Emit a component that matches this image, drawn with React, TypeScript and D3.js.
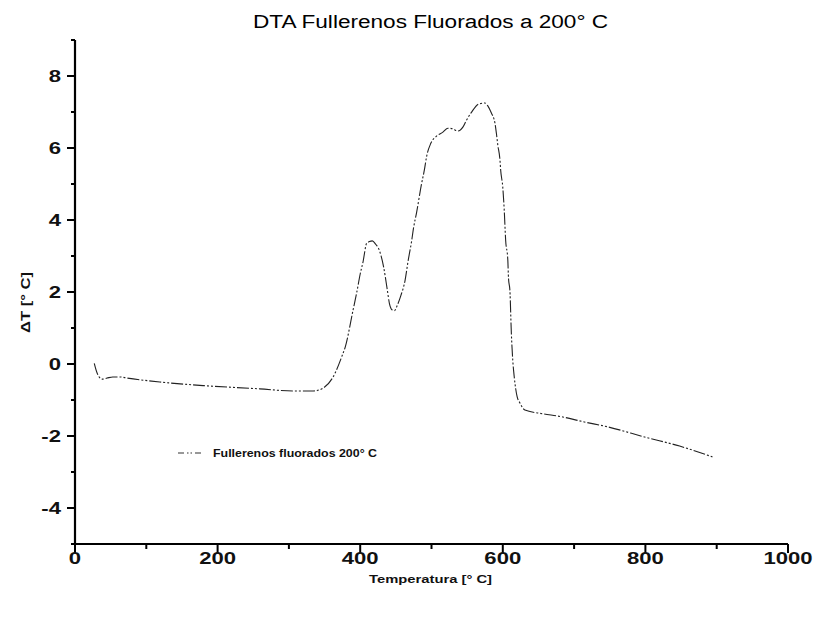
import React from "react";
import * as d3 from "d3";

const temps = [27, 31, 38, 45, 53, 63, 73, 119, 180, 259, 306, 334, 348, 362, 375, 379, 390, 395, 400, 404, 409, 413, 417, 422, 425, 433, 438, 441, 445, 448, 452, 457, 463, 467, 472, 475, 479, 486, 490, 493, 499, 507, 516, 523, 530, 537, 544, 549, 556, 566, 575, 579, 584, 589, 591, 593, 596, 597, 600, 602, 604, 607, 608, 610, 612, 614, 616, 620, 624, 631, 652, 684, 712, 746, 801, 848, 894];
const deltaT = [0.02, -0.25, -0.42, -0.39, -0.36, -0.36, -0.39, -0.5, -0.6, -0.69, -0.75, -0.75, -0.67, -0.36, 0.25, 0.47, 1.5, 1.97, 2.5, 2.84, 3.35, 3.4, 3.42, 3.32, 3.24, 2.68, 2.06, 1.68, 1.5, 1.48, 1.63, 1.9, 2.33, 2.84, 3.4, 3.8, 4.2, 5.0, 5.39, 5.75, 6.13, 6.33, 6.44, 6.55, 6.53, 6.47, 6.58, 6.77, 6.99, 7.22, 7.25, 7.17, 6.97, 6.69, 6.41, 6.08, 5.67, 5.39, 4.9, 4.28, 3.44, 2.9, 2.38, 2.03, 0.85, 0.1, -0.35, -0.9, -1.08, -1.28, -1.37, -1.47, -1.6, -1.74, -2.04, -2.28, -2.58];

const xTicks = [0, 200, 400, 600, 800, 1000];
const xMinor = [100, 300, 500, 700, 900];
const yTicks = [-4, -2, 0, 2, 4, 6, 8];
const yMinor = [-5, -3, -1, 1, 3, 5, 7, 9];

const title = "DTA Fullerenos Fluorados a 200° C";
const xLabel = "Temperatura [° C]";
const yLabel = "ΔT [° C]";
const seriesName = "Fullerenos fluorados 200° C";

export default function App() {
  const W = 814, H = 619;
  const x = d3.scaleLinear().domain([0, 1000]).range([75, 788]);
  const y = d3.scaleLinear().domain([-5, 9]).range([544, 40]);
  const data = temps.map((t, i) => [t, deltaT[i]] as [number, number]);
  const line = d3.line<[number, number]>().x(d => x(d[0])).y(d => y(d[1])).curve(d3.curveMonotoneX);
  const font = "'Liberation Sans', Arial, sans-serif";
  const x0 = x(0), yB = y(-5);
  return (
    <svg width={W} height={H} style={{ position: "absolute", left: 0, top: 0, background: "#fff" }} fontFamily={font}>
      <rect width={W} height={H} fill="#fff" />
      <text x={253} y={28} fontSize={18} fill="#000" textLength={355} lengthAdjust="spacingAndGlyphs">{title}</text>
      {/* axes */}
      <line x1={x0} x2={x0} y1={y(9)} y2={yB} stroke="#000" strokeWidth={2.2} />
      <line x1={x0} x2={x(1000)} y1={yB} y2={yB} stroke="#000" strokeWidth={2} />
      {yTicks.map(v => (
        <g key={"y" + v}>
          <line x1={x0 - 8} x2={x0} y1={y(v)} y2={y(v)} stroke="#000" strokeWidth={2} />
          <text transform={`translate(61,${y(v)}) scale(1.3,1)`} dy="0.36em" textAnchor="end" fontSize={17} fontWeight="bold" fill="#111">{v}</text>
        </g>
      ))}
      {yMinor.map(v => (
        <line key={"ym" + v} x1={x0 - 4} x2={x0} y1={y(v)} y2={y(v)} stroke="#000" strokeWidth={2} />
      ))}
      {xTicks.map(v => (
        <g key={"x" + v}>
          <line x1={x(v)} x2={x(v)} y1={yB} y2={yB + 9} stroke="#000" strokeWidth={2} />
          <text transform={`translate(${x(v)},564) scale(1.3,1)`} textAnchor="middle" fontSize={17} fontWeight="bold" fill="#111">{v}</text>
        </g>
      ))}
      {xMinor.map(v => (
        <line key={"xm" + v} x1={x(v)} x2={x(v)} y1={yB} y2={yB + 5} stroke="#000" strokeWidth={2} />
      ))}
      <text x={369} y={583} fontSize={11} fontWeight="bold" fill="#111" textLength={123} lengthAdjust="spacingAndGlyphs">{xLabel}</text>
      <text transform="translate(30,333) rotate(-90)" fontSize={12} fontWeight="bold" fill="#111" textLength={61} lengthAdjust="spacingAndGlyphs">{yLabel}</text>
      {/* series */}
      <path d={line(data) || ""} fill="none" stroke="#222" strokeWidth={1.1} strokeDasharray="12,2,2,2,2,2" />
      {/* legend */}
      <line x1={178} x2={201} y1={453} y2={453} stroke="#333" strokeWidth={1.2} strokeDasharray="6,3,1.5,2,1.5,3" />
      <text x={213} y={457} fontSize={10} fontWeight="bold" fill="#111" textLength={164} lengthAdjust="spacingAndGlyphs">{seriesName}</text>
    </svg>
  );
}
